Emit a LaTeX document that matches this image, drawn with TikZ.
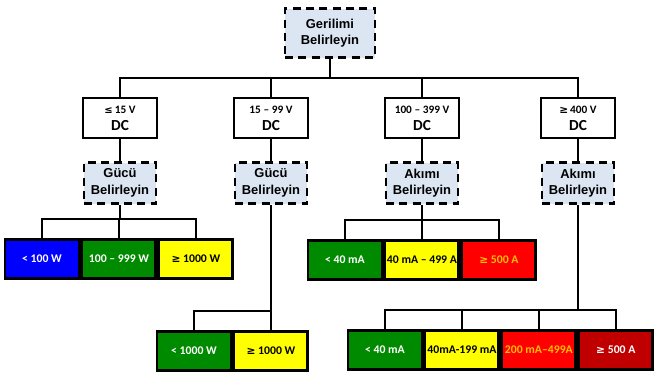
\documentclass[tikz,border=0pt]{standalone}
\usepackage{fontspec}
\setmainfont{Carlito}
\newfontfamily\arialfont{Liberation Sans}
\newfontfamily\symfont{DejaVu Sans}
\definecolor{askblue}{RGB}{220,230,242}
\definecolor{lowgreen}{RGB}{0,138,0}
\definecolor{lowblue}{RGB}{0,0,255}
\definecolor{midyellow}{RGB}{255,255,0}
\definecolor{hotred}{RGB}{255,0,0}
\definecolor{deepred}{RGB}{192,0,0}
\definecolor{warnorange}{RGB}{255,192,0}
\usetikzlibrary{positioning}
\newcommand{\gsym}{{\symfont\fontsize{8}{9}\selectfont ≥}}
\newcommand{\lsym}{{\symfont\fontsize{7.5}{9}\selectfont ≤}}

\begin{document}
\begin{tikzpicture}[x=0.75pt,y=-0.75pt,
  ask/.style={draw,line width=2.2pt,dash pattern=on 6pt off 4pt,fill=askblue,align=center,inner sep=0pt,
    minimum width=54pt,minimum height=30.75pt,font=\arialfont\bfseries\fontsize{9.7}{12.5}\selectfont},
  voltbox/.style={draw,line width=2.2pt,align=center,inner sep=0pt,minimum width=55.5pt,minimum height=30pt,
    font=\bfseries\fontsize{11.5}{12.75}\selectfont},
  leaf/.style={draw,line width=2.2pt,inner sep=0pt,minimum width=55.5pt,minimum height=29.25pt,
    font=\bfseries\fontsize{8.8}{10}\selectfont},
  conn/.style={line width=1.1pt}]
  \useasboundingbox (0,0) rectangle (660,379);

  \node[ask,minimum width=67.5pt,minimum height=36.75pt] (top) at (330,33) {Gerilimi\\Belirleyin};

  \node[voltbox] (v1) at (120,118) {{\fontsize{8.5}{9}\selectfont\lsym\,15 V}\\DC};
  \node[voltbox] (v2) at (271,118) {{\fontsize{8.5}{9}\selectfont 15 – 99 V}\\DC};
  \node[voltbox] (v3) at (422,118) {{\fontsize{8.5}{9}\selectfont 100 – 399 V}\\DC};
  \node[voltbox] (v4) at (578,118) {{\fontsize{8.5}{9}\selectfont\gsym\,400 V}\\DC};

  \node[ask] (g1) at (120,183) {Gücü\\Belirleyin};
  \node[ask] (g2) at (271,183) {Gücü\\Belirleyin};
  \node[ask] (g3) at (422,183) {Akımı\\Belirleyin};
  \node[ask] (g4) at (578,183) {Akımı\\Belirleyin};

  \node[leaf,fill=lowblue,text=white] (a1) at (42,259) {< 100 W};
  \node[leaf,fill=lowgreen,text=white,right=0pt of a1] (a2) {100 – 999 W};
  \node[leaf,fill=midyellow,right=0pt of a2] (a3) {\gsym\ 1000 W};

  \node[leaf,fill=lowgreen,text=white] (b1) at (194,351) {< 1000 W};
  \node[leaf,fill=midyellow,right=0pt of b1] (b2) {\gsym\ 1000 W};

  \node[leaf,fill=lowgreen,text=white] (c1) at (345,260) {< 40 mA};
  \node[leaf,fill=midyellow,right=0pt of c1] (c2) {40 mA – 499 A};
  \node[leaf,fill=hotred,text=warnorange,right=0pt of c2] (c3) {\gsym\ 500 A};

  \node[leaf,fill=lowgreen,text=white] (d1) at (385,350) {< 40 mA};
  \node[leaf,fill=midyellow,right=0pt of d1] (d2) {40mA-199 mA};
  \node[leaf,fill=hotred,text=warnorange,right=0pt of d2] (d3) {200 mA–499A};
  \node[leaf,fill=deepred,text=white,right=0pt of d3] (d4) {\gsym\ 500 A};

  \foreach \v/\g in {v1/g1,v2/g2,v3/g3,v4/g4} {
    \draw[conn] (top.south) -- ++(0,19) -| (\v.north);
    \draw[conn] (\v) -- (\g);
  }
  \foreach \a in {a1,a2,a3}
    \draw[conn] (g1.south) -- ++(0,14) -| (\a.north);
  \foreach \b in {b1,b2}
    \draw[conn] (g2.south) -- ++(0,106) -| (\b.north);
  \foreach \c in {c1,c2,c3}
    \draw[conn] (g3.south) -- ++(0,15) -| (\c.north);
  \foreach \d in {d1,d2,d3,d4}
    \draw[conn] (g4.south) -- ++(0,105) -| (\d.north);
\end{tikzpicture}
\end{document}
